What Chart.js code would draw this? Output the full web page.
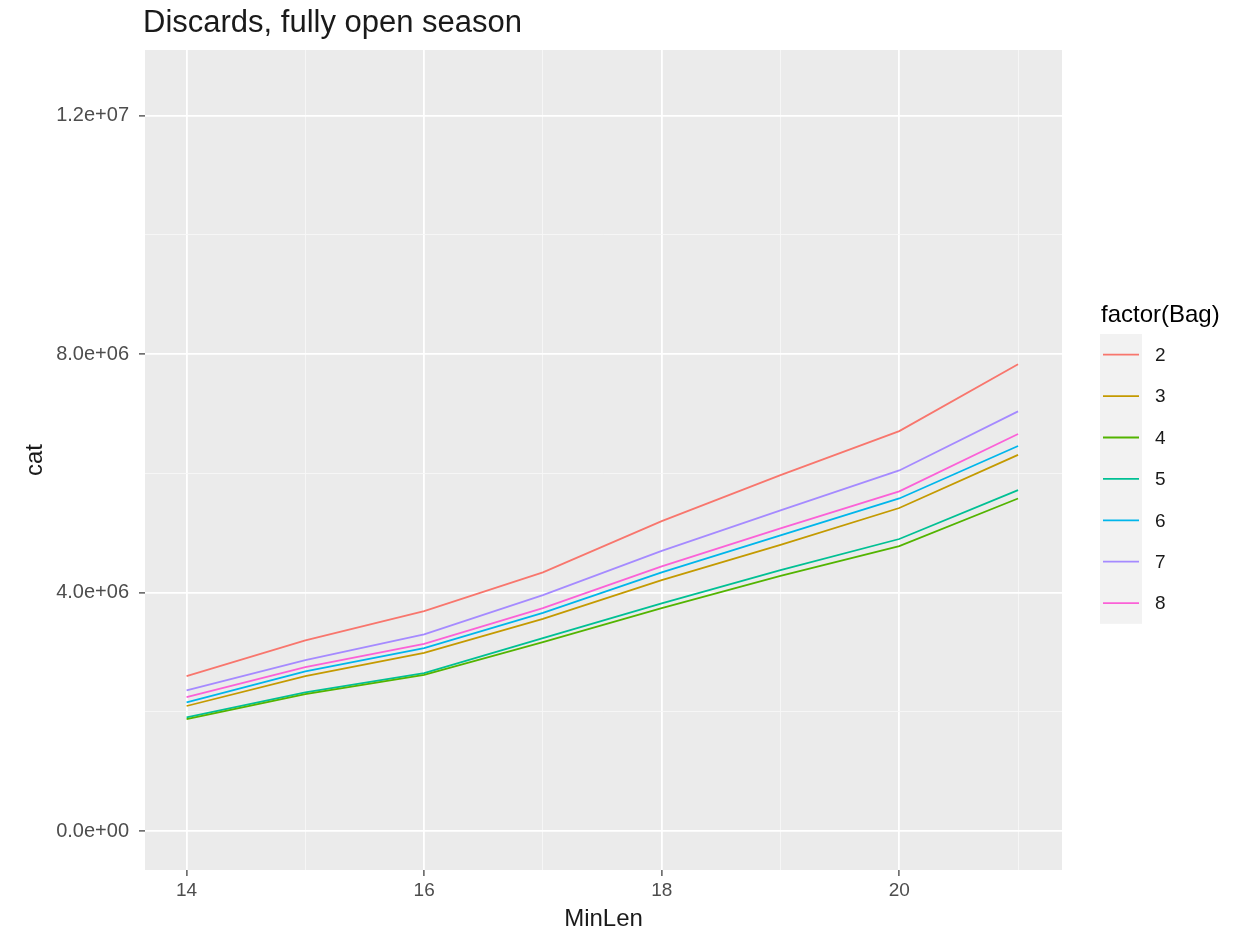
<!DOCTYPE html>
<html>
<head>
<meta charset="utf-8">
<script src="https://cdn.jsdelivr.net/npm/chart.js@4.4.0/dist/chart.umd.min.js"></script>
<style>
  html, body { margin: 0; padding: 0; background: #ffffff; }
  #wrap { width: 1255px; height: 931px; position: relative; }
</style>
</head>
<body>
<div id="wrap"><canvas id="chart" width="1255" height="931"></canvas></div>
<script>
(function () {
    "use strict";

    // data
    const minLen = [14, 15, 16, 17, 18, 19, 20, 21];
    const bags = ["2", "3", "4", "5", "6", "7", "8"];
    const bag2 = [2.60e6, 3.20e6, 3.69e6, 4.34e6, 5.20e6, 5.97e6, 6.71e6, 7.83e6];
    const bag3 = [2.10e6, 2.60e6, 2.99e6, 3.56e6, 4.21e6, 4.80e6, 5.42e6, 6.31e6];
    const bag4 = [1.88e6, 2.30e6, 2.62e6, 3.17e6, 3.74e6, 4.28e6, 4.78e6, 5.58e6];
    const bag5 = [1.91e6, 2.33e6, 2.65e6, 3.24e6, 3.82e6, 4.38e6, 4.90e6, 5.72e6];
    const bag6 = [2.16e6, 2.68e6, 3.07e6, 3.66e6, 4.34e6, 4.96e6, 5.58e6, 6.46e6];
    const bag7 = [2.36e6, 2.87e6, 3.30e6, 3.96e6, 4.70e6, 5.38e6, 6.05e6, 7.04e6];
    const bag8 = [2.25e6, 2.75e6, 3.14e6, 3.74e6, 4.44e6, 5.08e6, 5.70e6, 6.66e6];
    const series = [bag2, bag3, bag4, bag5, bag6, bag7, bag8];
    const colors = ["#F8766D", "#C49A00", "#53B400", "#00C094", "#00B6EB", "#A58AFF", "#FB61D7"];

    const yTicks = [0, 2e6, 4e6, 6e6, 8e6, 10e6, 12e6];
    const yLabels = { 0: "0.0e+00", 4000000: "4.0e+06", 8000000: "8.0e+06", 12000000: "1.2e+07" };
    const xTicks = [14, 15, 16, 17, 18, 19, 20, 21];
    const xLabels = { 14: "14", 16: "16", 18: "18", 20: "20" };

    const FONT = "'Liberation Sans', Arial, Helvetica, sans-serif";

    const panelBg = {
        id: "panelBg",
        beforeDraw(chart) {
            const { ctx, chartArea: a } = chart;
            ctx.save();
            ctx.fillStyle = "#EBEBEB";
            ctx.fillRect(a.left, a.top, a.right - a.left, a.bottom - a.top);
            ctx.restore();
        },
        afterDraw(chart) {
            const { ctx, chartArea: a } = chart;
            ctx.save();
            // title
            ctx.fillStyle = "#1A1A1A";
            ctx.font = "31px " + FONT;
            ctx.textBaseline = "alphabetic";
            ctx.textAlign = "left";
            ctx.fillText("Discards, fully open season", a.left - 2, 32);

            // legend
            ctx.fillStyle = "#000000";
            ctx.font = "24px " + FONT;
            ctx.fillText("factor(Bag)", 1101, 322);
            const top = 334, step = 41.4;
            ctx.fillStyle = "#F2F2F2";
            ctx.fillRect(1100, top, 42, step * bags.length);
            chart.data.datasets.forEach((ds, i) => {
                const cy = top + step / 2 + i * step;
                ctx.strokeStyle = ds.borderColor;
                ctx.lineWidth = 1.8;
                ctx.beginPath();
                ctx.moveTo(1103, cy);
                ctx.lineTo(1139, cy);
                ctx.stroke();
                ctx.fillStyle = "#1A1A1A";
                ctx.font = "19px " + FONT;
                ctx.textBaseline = "middle";
                ctx.fillText(ds.label, 1155, cy + 1);
            });
            ctx.restore();
        },
    };

    const ctx = document.getElementById("chart").getContext("2d");
    new Chart(ctx, {
        type: "line",
        data: {
            datasets: bags.map((b, i) => ({
                label: b,
                data: minLen.map((x, j) => ({ x: x, y: series[i][j] })),
                borderColor: colors[i],
                backgroundColor: colors[i],
                borderWidth: 1.8,
                pointRadius: 0,
                tension: 0,
                fill: false,
            })),
        },
        options: {
            responsive: false,
            animation: false,
            layout: { padding: { left: 23, right: 193, top: 50, bottom: 0 } },
            plugins: {
                legend: { display: false },
                tooltip: { enabled: false },
            },
            scales: {
                x: {
                    type: "linear",
                    min: 13.65,
                    max: 21.37,
                    afterBuildTicks(scale) {
                        scale.ticks = xTicks.map(v => ({ value: v }));
                    },
                    afterFit(scale) { scale.height = 61; },
                    border: { display: false },
                    grid: {
                        color: c => (c.tick && xLabels[c.tick.value] ? "#FFFFFF" : "#F7F7F7"),
                        lineWidth: c => (c.tick && xLabels[c.tick.value] ? 1.8 : 0.9),
                        tickColor: c => (c.tick && xLabels[c.tick.value] ? "#333333" : "rgba(0,0,0,0)"),
                        tickLength: 6,
                        tickWidth: 1.2,
                    },
                    ticks: {
                        autoSkip: false,
                        maxRotation: 0,
                        color: "#4D4D4D",
                        font: { family: FONT, size: 19 },
                        padding: 3,
                        callback: v => xLabels[v] || "",
                    },
                    title: {
                        display: true,
                        text: "MinLen",
                        color: "#1A1A1A",
                        font: { family: FONT, size: 24, lineHeight: 1 },
                        padding: { top: 0, bottom: 0 },
                    },
                },
                y: {
                    type: "linear",
                    min: -0.65e6,
                    max: 13.1e6,
                    afterBuildTicks(scale) {
                        scale.ticks = yTicks.map(v => ({ value: v }));
                    },
                    afterFit(scale) { scale.width = 122; },
                    border: { display: false },
                    grid: {
                        color: c => (c.tick && yLabels[c.tick.value] !== undefined ? "#FFFFFF" : "#F7F7F7"),
                        lineWidth: c => (c.tick && yLabels[c.tick.value] !== undefined ? 1.8 : 0.9),
                        tickColor: c => (c.tick && yLabels[c.tick.value] !== undefined ? "#333333" : "rgba(0,0,0,0)"),
                        tickLength: 6,
                        tickWidth: 1.2,
                    },
                    ticks: {
                        autoSkip: false,
                        color: "#4D4D4D",
                        font: { family: FONT, size: 20 },
                        padding: 10,
                        callback: v => (yLabels[v] !== undefined ? yLabels[v] : ""),
                    },
                    title: {
                        display: true,
                        text: "cat",
                        color: "#1A1A1A",
                        font: { family: FONT, size: 24, lineHeight: 1 },
                        padding: { top: 0, bottom: 0 },
                    },
                },
            },
        },
        plugins: [panelBg],
    });
})();
</script>
</body>
</html>
